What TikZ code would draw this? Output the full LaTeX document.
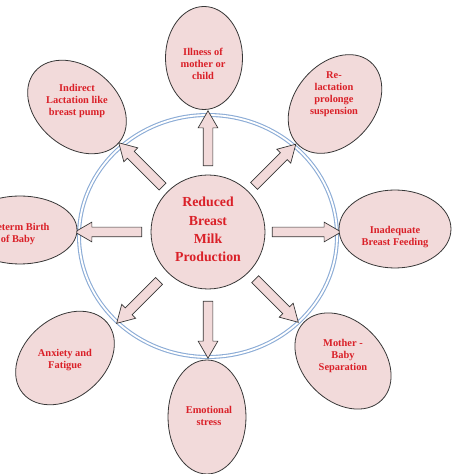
\documentclass[tikz,border=0pt]{standalone}
\usepackage{fontspec}
\setmainfont{Liberation Serif}
\usetikzlibrary{shapes.geometric, shapes.arrows}
\definecolor{bubblepink}{RGB}{242,218,218}
\definecolor{labelred}{RGB}{218,32,40}
\definecolor{ringblue}{RGB}{140,172,214}
\definecolor{edgegray}{RGB}{55,55,55}
\tikzset{
  bubble/.style={ellipse, draw=edgegray, fill=bubblepink, line width=0.8pt, inner sep=0pt},
  bubbletext/.style={align=center, text=labelred, font=\fontsize{10.4}{12}\selectfont\bfseries},
  fatarrow/.style={single arrow, draw=edgegray, fill=bubblepink, line width=0.7pt,
    inner xsep=0pt, inner ysep=4.5pt, minimum width=19pt,
    single arrow head extend=5pt, single arrow tip angle=60},
}
\begin{document}
\begin{tikzpicture}[x=1pt, y=1pt]
    \useasboundingbox (0,0) rectangle (474,474);
    \clip (0,0) rectangle (474,474);
    % ring
    \draw[ringblue, line width=1.1pt, double=white, double distance=1.8pt] (208,238) ellipse (129pt and 121pt);
    % centre
    \node[circle, draw=edgegray, fill=bubblepink, line width=0.8pt, minimum size=114pt, inner sep=0pt] (milk) at (208,242) {};
    \node[align=center, text=labelred, font=\fontsize{13.8}{18.3}\selectfont\bfseries] (milktext) at (208,244.5) {Reduced\\Breast\\Milk\\Production};
    % arrows
    \node[fatarrow, rotate=90, minimum height=55pt] (arrN) at ([shift={(90:89.5pt)}]milk.center) {};
    \node[fatarrow, rotate=45, minimum height=59pt] (arrNE) at ([shift={(45:90.5pt)}]milk.center) {};
    \node[fatarrow, rotate=0, minimum height=69pt] (arrE) at ([shift={(0:94.5pt)}]milk.center) {};
    \node[fatarrow, rotate=-45, minimum height=61pt] (arrSE) at ([shift={(-45:93pt)}]milk.center) {};
    \node[fatarrow, rotate=-90, minimum height=57pt] (arrS) at ([shift={(-90:93.5pt)}]milk.center) {};
    \node[fatarrow, rotate=225, minimum height=60pt] (arrSW) at ([shift={(225:95pt)}]milk.center) {};
    \node[fatarrow, rotate=180, minimum height=67pt] (arrW) at ([shift={(180:95.5pt)}]milk.center) {};
    \node[fatarrow, rotate=135, minimum height=62pt] (arrNW) at ([shift={(135:91pt)}]milk.center) {};
    % outer ellipses
    \node[bubble, minimum width=77pt, minimum height=103pt] (illness) at (204,416) {};
    \node[bubbletext] (illnesstext) at (203,410) {Illness of\\mother or\\child};
    \node[bubble, minimum width=110pt, minimum height=80pt, rotate=-40] (pump) at (77,367) {};
    \node[bubbletext] (pumptext) at (77,373) {Indirect\\Lactation like\\breast pump};
    \node[bubble, minimum width=110pt, minimum height=80pt, rotate=50] (relact) at (335,370) {};
    \node[bubbletext] (relacttext) at (334,380) {Re-\\lactation\\prolonge\\suspension};
    \node[bubble, minimum width=112pt, minimum height=78pt] (feeding) at (395,245) {};
    \node[bubbletext] (feedingtext) at (395,237) {Inadequate\\Breast Feeding};
    \node[bubble, minimum width=110pt, minimum height=80pt, rotate=-45] (separation) at (343,113) {};
    \node[bubbletext] (separationtext) at (343,118) {Mother -\\Baby\\Separation};
    \node[bubble, minimum width=78pt, minimum height=114pt] (stress) at (207,57) {};
    \node[bubbletext] (stresstext) at (209,58) {Emotional\\stress};
    \node[bubble, minimum width=110pt, minimum height=80pt, rotate=40] (anxiety) at (65,116) {};
    \node[bubbletext] (anxietytext) at (65,114) {Anxiety and\\Fatigue};
    \node[bubble, minimum width=114pt, minimum height=68pt] (preterm) at (20,244) {};
    \node[bubbletext] (pretermtext) at (18,240) {Preterm Birth\\of Baby};
\end{tikzpicture}
\end{document}
